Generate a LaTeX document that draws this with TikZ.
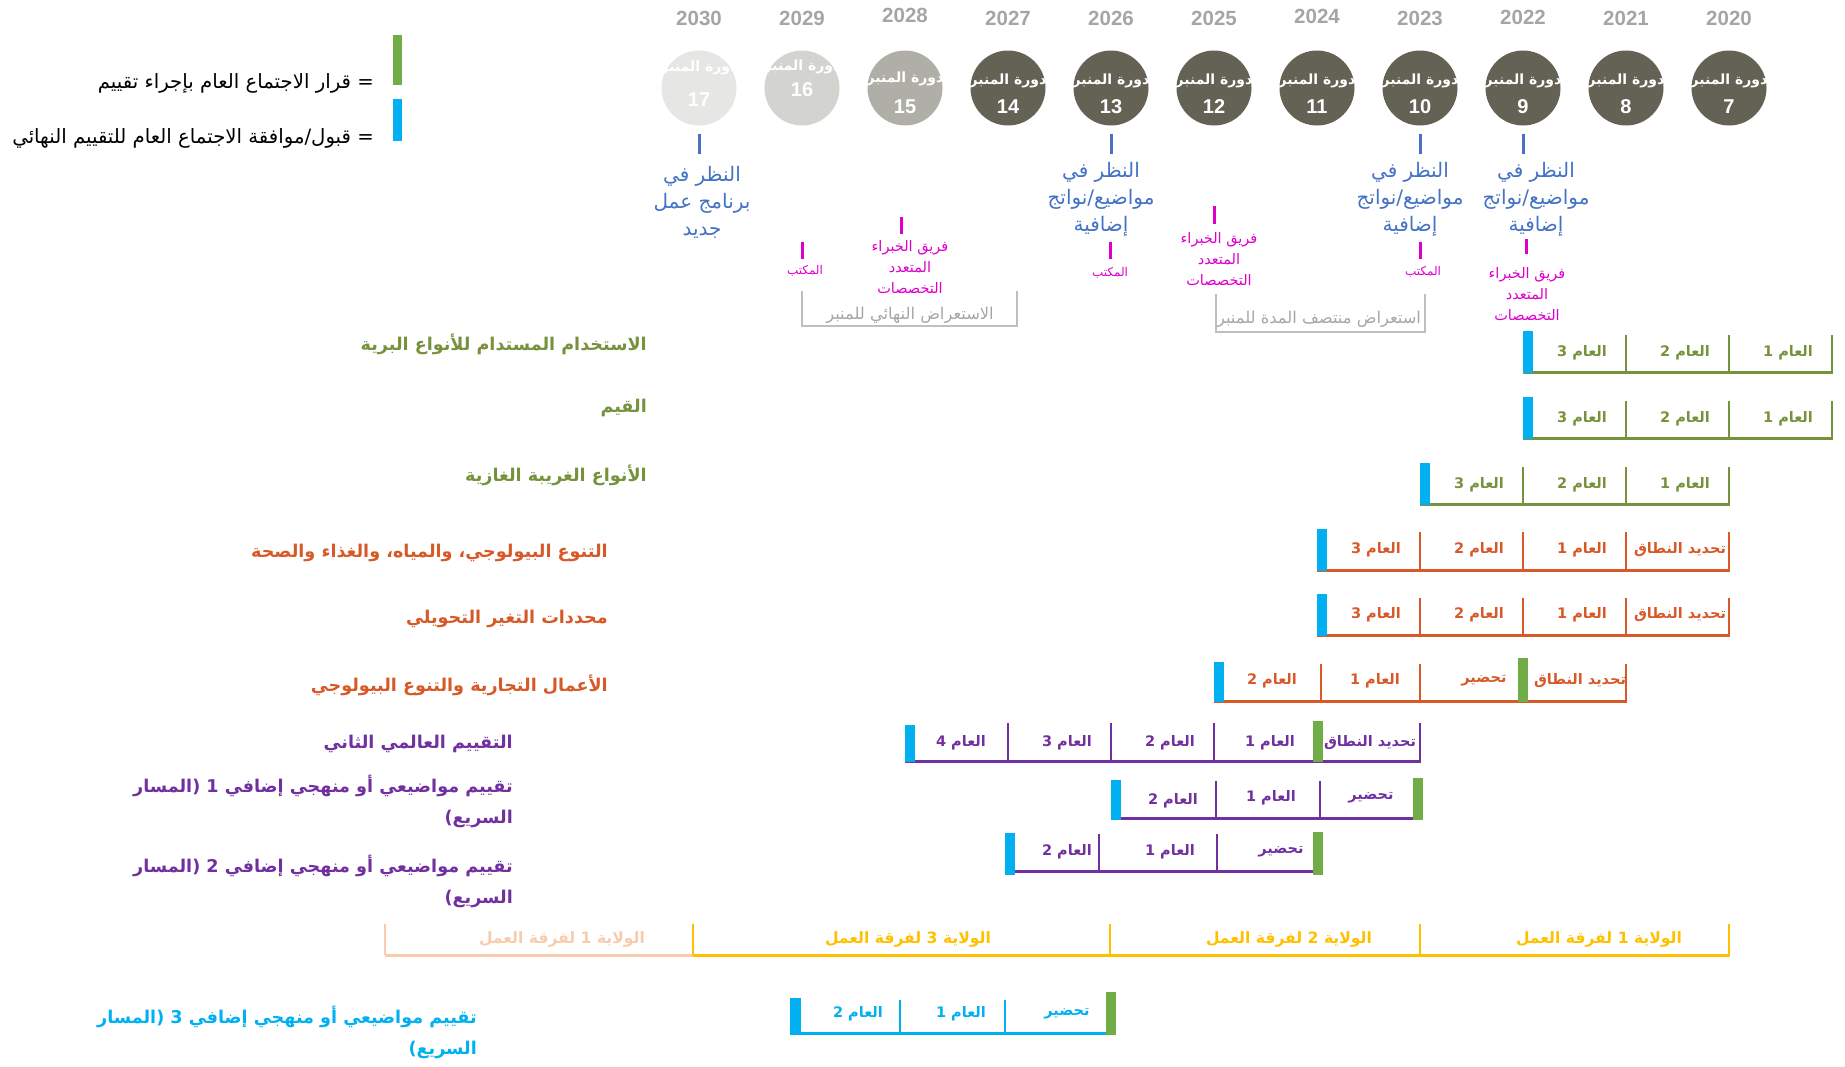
\documentclass[tikz,border=0pt]{standalone}
\usepackage{fontspec}
\setmainfont{Liberation Sans}
\newfontfamily\arfont[Script=Arabic]{DejaVu Sans}
\TeXXeTstate=1
\usetikzlibrary{calc}
\newcommand\rtl[1]{\beginR #1\endR}
\definecolor{cgreen}{RGB}{118,146,60}
\definecolor{corange}{RGB}{215,89,40}
\definecolor{cpurple}{RGB}{112,48,160}
\definecolor{ccyan}{RGB}{0,176,240}
\definecolor{cyellow}{RGB}{255,192,0}
\definecolor{cpeach}{RGB}{248,203,173}
\definecolor{cmark}{RGB}{112,173,71}
\definecolor{cblue}{RGB}{68,114,196}
\definecolor{cmag}{RGB}{221,0,204}
\definecolor{cyear}{RGB}{165,165,165}
\definecolor{cdark}{RGB}{100,97,85}
\definecolor{cfifteen}{RGB}{176,175,167}
\definecolor{csixteen}{RGB}{211,211,207}
\definecolor{cseventeen}{RGB}{230,230,228}
\definecolor{cbr}{RGB}{191,191,191}
\definecolor{cbrtext}{RGB}{166,166,166}
\begin{document}
\begin{tikzpicture}[x=1pt,y=-1pt,
  yearlbl/.style={font=\bfseries\fontsize{20.5}{24}\selectfont, text=cyear, inner sep=0pt},
  cyc/.style={circle, minimum size=75pt, inner sep=0pt},
  cyct/.style={font=\arfont\bfseries\fontsize{14}{16}\selectfont, text=white, inner sep=0pt},
  cycn/.style={font=\bfseries\fontsize{20}{22}\selectfont, text=white, inner sep=0pt},
  bluetxt/.style={font=\arfont\fontsize{20}{27}\selectfont, text=cblue, align=center, inner sep=0pt},
  magtxt/.style={font=\arfont\fontsize{14.5}{21}\selectfont, text=cmag, align=center, inner sep=0pt},
  magsmall/.style={font=\arfont\fontsize{12}{14}\selectfont, text=cmag, inner sep=0pt},
  btick/.style={draw=cblue, line width=3pt},
  mtick/.style={draw=cmag, line width=3pt},
  brk/.style={draw=cbr, line width=2pt},
  brktxt/.style={font=\arfont\fontsize{16.3}{19}\selectfont, text=cbrtext, inner sep=0pt},
  rowlbl/.style={font=\arfont\bfseries\fontsize{17.6}{31}\selectfont, anchor=east, align=right, inner sep=0pt},
  lbl/.style={font=\arfont\bfseries\fontsize{14.5}{18}\selectfont, inner sep=0pt},
  bar/.style={draw=#1, line width=3pt},
  sep/.style={draw=#1, line width=2.5pt},
  legt/.style={font=\arfont\fontsize{19.7}{23}\selectfont, text=black, anchor=east, inner sep=0pt},
  mandlbl/.style={font=\arfont\bfseries\fontsize{15.6}{19}\selectfont, inner sep=0pt}
]
\useasboundingbox (0,0) rectangle (1845,1066);

% ---- legend
\fill[cmark] (393,35) rectangle (402,85);
\fill[ccyan] (393,99) rectangle (402,141);
\node[legt] (lg1) at (374,83) {\rtl{= قرار الاجتماع العام بإجراء تقييم}};
\node[legt] (lg2) at (374,138) {\rtl{= قبول/موافقة الاجتماع العام للتقييم النهائي}};

% ---- years
\foreach \yr/\x/\yy in {2020/1729/18,2021/1626/18,2022/1523/17,2023/1420/18,2024/1317/16,2025/1214/18,2026/1111/18,2027/1008/18,2028/905/15,2029/802/18,2030/699/18}
  \node[yearlbl] (y\yr) at (\x,\yy) {\yr};

% ---- plenary circles
\foreach \n/\x/\col/\ya/\yb in {7/1729/cdark/81/107,8/1626/cdark/81/107,9/1523/cdark/81/107,10/1420/cdark/81/107,11/1317/cdark/81/107,12/1214/cdark/81/107,13/1111/cdark/81/107,14/1008/cdark/81/107,15/905/cfifteen/79/107,16/802/csixteen/67/90,17/699/cseventeen/68/100}{
  \node[cyc, fill=\col] (c\n) at (\x,88) {};
  \node[cyct] (ct\n) at (\x,\ya) {\rtl{دورة المنبر}};
  \node[cycn] (cn\n) at (\x,\yb) {\n};
}

% ---- blue: consideration notes
\coordinate (bt1a) at (699,134); \coordinate (bt1b) at (699,154);
\coordinate (bt2a) at (1111,134); \coordinate (bt2b) at (1111,154);
\coordinate (bt3a) at (1420,134); \coordinate (bt3b) at (1420,154);
\coordinate (bt4a) at (1523,134); \coordinate (bt4b) at (1523,154);
\draw[btick] (bt1a) -- (bt1b);
\draw[btick] (bt2a) -- (bt2b);
\draw[btick] (bt3a) -- (bt3b);
\draw[btick] (bt4a) -- (bt4b);
\node[bluetxt] (n2030) at (702,202) {\rtl{النظر في}\\\rtl{برنامج عمل}\\\rtl{جديد}};
\node[bluetxt] (n2026) at (1101,199) {\rtl{النظر في}\\\rtl{مواضيع/نواتج}\\\rtl{إضافية}};
\node[bluetxt] (n2023) at (1410,199) {\rtl{النظر في}\\\rtl{مواضيع/نواتج}\\\rtl{إضافية}};
\node[bluetxt] (n2022) at (1536,199) {\rtl{النظر في}\\\rtl{مواضيع/نواتج}\\\rtl{إضافية}};

% ---- magenta: bureau / MEP
\coordinate (m1a) at (802,242); \coordinate (m1b) at (802,259);
\coordinate (m2a) at (901,217); \coordinate (m2b) at (901,234);
\coordinate (m3a) at (1110,242); \coordinate (m3b) at (1110,259);
\coordinate (m4a) at (1214,206); \coordinate (m4b) at (1214,224);
\coordinate (m5a) at (1420,242); \coordinate (m5b) at (1420,259);
\coordinate (m6a) at (1526,239); \coordinate (m6b) at (1526,254);
\draw[mtick] (m1a) -- (m1b);
\draw[mtick] (m2a) -- (m2b);
\draw[mtick] (m3a) -- (m3b);
\draw[mtick] (m4a) -- (m4b);
\draw[mtick] (m5a) -- (m5b);
\draw[mtick] (m6a) -- (m6b);
\node[magsmall] (k2029) at (805,271) {\rtl{المكتب}};
\node[magsmall] (k2026) at (1110,273) {\rtl{المكتب}};
\node[magsmall] (k2023) at (1423,272) {\rtl{المكتب}};
\node[magtxt] (f2028) at (910,267) {\rtl{فريق الخبراء}\\\rtl{المتعدد}\\\rtl{التخصصات}};
\node[magtxt] (f2025) at (1219,259) {\rtl{فريق الخبراء}\\\rtl{المتعدد}\\\rtl{التخصصات}};
\node[magtxt] (f2022) at (1527,294) {\rtl{فريق الخبراء}\\\rtl{المتعدد}\\\rtl{التخصصات}};

% ---- review brackets
\draw[brk] (802,291) -- (802,326) -- (1017,326) -- (1017,291);
\node[brktxt] (rv1) at (910,315) {\rtl{الاستعراض النهائي للمنبر}};
\draw[brk] (1216,294) -- (1216,332) -- (1425,332) -- (1425,294);
\node[brktxt] (rv2) at (1319,319) {\rtl{استعراض منتصف المدة للمنبر}};

% ---- row labels
\node[rowlbl, text=cgreen] (L1) at (647,344) {\rtl{الاستخدام المستدام للأنواع البرية}};
\node[rowlbl, text=cgreen] (L2) at (647,408) {\rtl{القيم}};
\node[rowlbl, text=cgreen] (L3) at (647,475) {\rtl{الأنواع الغريبة الغازية}};
\node[rowlbl, text=corange] (L4) at (608,553) {\rtl{التنوع البيولوجي، والمياه، والغذاء والصحة}};
\node[rowlbl, text=corange] (L5) at (608,619) {\rtl{محددات التغير التحويلي}};
\node[rowlbl, text=corange] (L6) at (608,685) {\rtl{الأعمال التجارية والتنوع البيولوجي}};
\node[rowlbl, text=cpurple] (L7) at (513,744) {\rtl{التقييم العالمي الثاني}};
\node[rowlbl, text=cpurple] (L8) at (513,801) {\rtl{تقييم مواضيعي أو منهجي إضافي 1 (المسار}\\\rtl{السريع)}};
\node[rowlbl, text=cpurple] (L9) at (513,881) {\rtl{تقييم مواضيعي أو منهجي إضافي 2 (المسار}\\\rtl{السريع)}};
\node[rowlbl, text=ccyan] (L11) at (477,1032) {\rtl{تقييم مواضيعي أو منهجي إضافي 3 (المسار}\\\rtl{السريع)}};

% ---- row 1
\draw[bar=cgreen] (1523,372) -- (1833,372);
\foreach \x in {1626,1729,1832} \draw[sep=cgreen] (\x,335) -- (\x,372);
\fill[ccyan] (1523,331) rectangle ++(10,42);
\node[lbl,text=cgreen] (r1a) at (1582,353) {\rtl{العام 3}};
\node[lbl,text=cgreen] (r1b) at (1685,353) {\rtl{العام 2}};
\node[lbl,text=cgreen] (r1c) at (1788,353) {\rtl{العام 1}};
% ---- row 2
\draw[bar=cgreen] (1523,438) -- (1833,438);
\foreach \x in {1626,1729,1832} \draw[sep=cgreen] (\x,401) -- (\x,438);
\fill[ccyan] (1523,397) rectangle ++(10,42);
\node[lbl,text=cgreen] (r2a) at (1582,419) {\rtl{العام 3}};
\node[lbl,text=cgreen] (r2b) at (1685,419) {\rtl{العام 2}};
\node[lbl,text=cgreen] (r2c) at (1788,419) {\rtl{العام 1}};
% ---- row 3
\draw[bar=cgreen] (1420,504) -- (1730,504);
\foreach \x in {1523,1626,1729} \draw[sep=cgreen] (\x,467) -- (\x,504);
\fill[ccyan] (1420,463) rectangle ++(10,42);
\node[lbl,text=cgreen] (r3a) at (1479,485) {\rtl{العام 3}};
\node[lbl,text=cgreen] (r3b) at (1582,485) {\rtl{العام 2}};
\node[lbl,text=cgreen] (r3c) at (1685,485) {\rtl{العام 1}};
% ---- row 4
\draw[bar=corange] (1317,570) -- (1730,570);
\foreach \x in {1420,1523,1626,1729} \draw[sep=corange] (\x,532) -- (\x,570);
\fill[ccyan] (1317,529) rectangle ++(10,42);
\node[lbl,text=corange] (r4a) at (1376,550) {\rtl{العام 3}};
\node[lbl,text=corange] (r4b) at (1479,550) {\rtl{العام 2}};
\node[lbl,text=corange] (r4c) at (1582,550) {\rtl{العام 1}};
\node[lbl,text=corange] (r4d) at (1680,550) {\rtl{تحديد النطاق}};
% ---- row 5
\draw[bar=corange] (1317,635) -- (1730,635);
\foreach \x in {1420,1523,1626,1729} \draw[sep=corange] (\x,598) -- (\x,635);
\fill[ccyan] (1317,594) rectangle ++(10,42);
\node[lbl,text=corange] (r5a) at (1376,615) {\rtl{العام 3}};
\node[lbl,text=corange] (r5b) at (1479,615) {\rtl{العام 2}};
\node[lbl,text=corange] (r5c) at (1582,615) {\rtl{العام 1}};
\node[lbl,text=corange] (r5d) at (1680,615) {\rtl{تحديد النطاق}};
% ---- row 6
\draw[bar=corange] (1214,701) -- (1627,701);
\foreach \x in {1321,1420,1626} \draw[sep=corange] (\x,664) -- (\x,701);
\fill[ccyan] (1214,662) rectangle ++(10,40);
\fill[cmark] (1518,658) rectangle ++(10,44);
\node[lbl,text=corange] (r6a) at (1272,681) {\rtl{العام 2}};
\node[lbl,text=corange] (r6b) at (1375,681) {\rtl{العام 1}};
\node[lbl,text=corange] (r6c) at (1484,681) {\rtl{تحضير}};
\node[lbl,text=corange] (r6d) at (1580,681) {\rtl{تحديد النطاق}};
% ---- row 7
\draw[bar=cpurple] (905,761) -- (1421,761);
\foreach \x in {1008,1111,1214,1420} \draw[sep=cpurple] (\x,723) -- (\x,761);
\fill[ccyan] (905,725) rectangle ++(10,37);
\fill[cmark] (1313,721) rectangle ++(10,41);
\node[lbl,text=cpurple] (r7a) at (961,743) {\rtl{العام 4}};
\node[lbl,text=cpurple] (r7b) at (1067,743) {\rtl{العام 3}};
\node[lbl,text=cpurple] (r7c) at (1170,743) {\rtl{العام 2}};
\node[lbl,text=cpurple] (r7d) at (1270,743) {\rtl{العام 1}};
\node[lbl,text=cpurple] (r7e) at (1370,743) {\rtl{تحديد النطاق}};
% ---- row 8
\draw[bar=cpurple] (1111,818) -- (1420,818);
\foreach \x in {1216,1320} \draw[sep=cpurple] (\x,781) -- (\x,818);
\fill[ccyan] (1111,780) rectangle ++(10,40);
\fill[cmark] (1413,778) rectangle ++(10,42);
\node[lbl,text=cpurple] (r8a) at (1173,801) {\rtl{العام 2}};
\node[lbl,text=cpurple] (r8b) at (1271,798) {\rtl{العام 1}};
\node[lbl,text=cpurple] (r8c) at (1371,798) {\rtl{تحضير}};
% ---- row 9
\draw[bar=cpurple] (1009,871) -- (1318,871);
\foreach \x in {1099,1217} \draw[sep=cpurple] (\x,834) -- (\x,871);
\fill[ccyan] (1005,833) rectangle ++(10,42);
\fill[cmark] (1313,832) rectangle ++(10,43);
\node[lbl,text=cpurple] (r9a) at (1067,852) {\rtl{العام 2}};
\node[lbl,text=cpurple] (r9b) at (1170,852) {\rtl{العام 1}};
\node[lbl,text=cpurple] (r9c) at (1281,852) {\rtl{تحضير}};

% ---- mandates
\draw[bar=cpeach] (385,955) -- (694,955);
\draw[sep=cpeach] (385,924) -- (385,955);
\draw[bar=cyellow] (693,955) -- (1730,955);
\foreach \x in {693,1110,1420,1729} \draw[sep=cyellow] (\x,924) -- (\x,955);
\node[mandlbl,text=cpeach] (md0) at (562,939) {\rtl{الولاية 1 لفرقة العمل}};
\node[mandlbl,text=cyellow] (md3) at (908,939) {\rtl{الولاية 3 لفرقة العمل}};
\node[mandlbl,text=cyellow] (md2) at (1289,939) {\rtl{الولاية 2 لفرقة العمل}};
\node[mandlbl,text=cyellow] (md1) at (1599,939) {\rtl{الولاية 1 لفرقة العمل}};

% ---- row 11
\draw[bar=ccyan] (794,1033) -- (1110,1033);
\foreach \x in {900,1005} \draw[sep=ccyan] (\x,1000) -- (\x,1033);
\fill[ccyan] (790,998) rectangle ++(11,37);
\fill[cmark] (1106,992) rectangle ++(10,43);
\node[lbl,text=ccyan] (r11a) at (858,1014) {\rtl{العام 2}};
\node[lbl,text=ccyan] (r11b) at (961,1014) {\rtl{العام 1}};
\node[lbl,text=ccyan] (r11c) at (1067,1014) {\rtl{تحضير}};
\end{tikzpicture}
\end{document}
